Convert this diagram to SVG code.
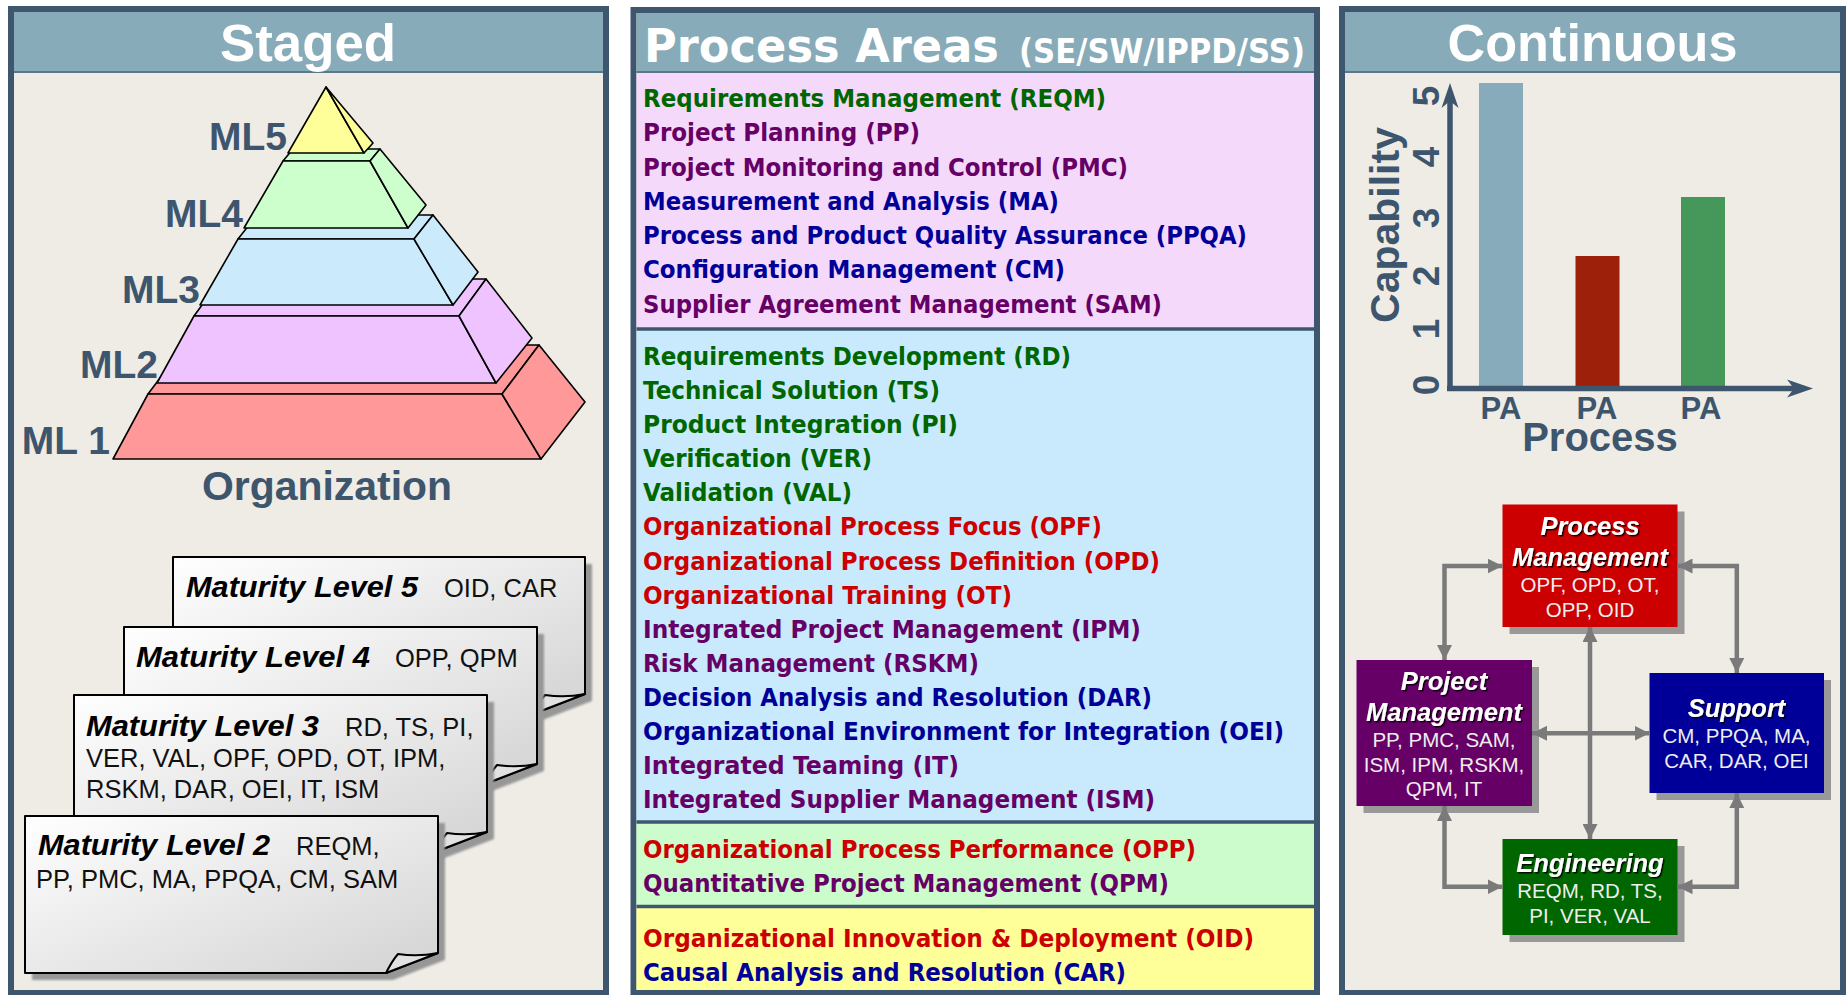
<svg xmlns="http://www.w3.org/2000/svg" width="1847" height="995" viewBox="0 0 1847 995">
  <defs>
    <style>
      .frame { fill: #efece5; stroke: #3e566e; stroke-width: 6; }
      .head { fill: #87abb9; }
      .headline { stroke: #5a788a; stroke-width: 2; }
      .htitle { font-family: "Liberation Sans", Arial, sans-serif; font-weight: bold; font-size: 51px; fill: #ffffff; text-anchor: middle; }
      .patitle { font-family: "DejaVu Sans", Verdana, sans-serif; font-weight: bold; fill: #ffffff; }
      .pa { font-family: "DejaVu Sans", Verdana, sans-serif; font-weight: bold; font-size: 24px; }
      .g { fill: #006600; }
      .p { fill: #660066; }
      .b { fill: #000099; }
      .r { fill: #cc0000; }
      .sep { stroke: #3e566e; stroke-width: 3.5; }
      .lvl { stroke: #000000; stroke-width: 1.6; stroke-linejoin: round; }
      .mlab { font-family: "Liberation Sans", Arial, sans-serif; font-weight: bold; font-size: 39px; fill: #3d566e; text-anchor: end; }
      .slate { font-family: "Liberation Sans", Arial, sans-serif; font-weight: bold; fill: #3d566e; }
      .card { fill: url(#paper); stroke: #000000; stroke-width: 2; stroke-linejoin: round; }
      .flap { fill: #e2e2e2; stroke: #000000; stroke-width: 2; stroke-linejoin: round; }
      .cshadow { fill: #979797; filter: url(#soft); }
      .ctitle { font-family: "Liberation Sans", Arial, sans-serif; font-weight: bold; font-style: italic; font-size: 29px; fill: #000000; }
      .ctext { font-family: "Liberation Sans", Arial, sans-serif; font-size: 25.5px; fill: #111111; }
      .bshadow { fill: #999999; }
      .btitle { font-family: "Liberation Sans", Arial, sans-serif; font-weight: bold; font-style: italic; font-size: 25.5px; fill: #ffffff; text-anchor: middle; filter: url(#tshadow); }
      .btext { font-family: "Liberation Sans", Arial, sans-serif; font-size: 20.5px; fill: #eeeeee; text-anchor: middle; }
      .link { fill: none; stroke: #7a7a7a; stroke-width: 4.5; marker-start: url(#ah); marker-end: url(#ah); }
    </style>
    <linearGradient id="paper" x1="0" y1="0" x2="1" y2="1">
      <stop offset="0" stop-color="#ffffff"/>
      <stop offset="1" stop-color="#d3d3d3"/>
    </linearGradient>
    <filter id="soft" x="-10%" y="-10%" width="120%" height="120%">
      <feGaussianBlur stdDeviation="1.2"/>
    </filter>
    <filter id="tshadow" x="-10%" y="-20%" width="120%" height="150%">
      <feDropShadow dx="1.5" dy="1.5" stdDeviation="0.7" flood-color="#000000" flood-opacity="0.85"/>
    </filter>
    <marker id="ah" viewBox="0 0 10 10" refX="10" refY="5" markerWidth="15" markerHeight="15" markerUnits="userSpaceOnUse" orient="auto-start-reverse">
      <path d="M0,0 L10,5 L0,10 Z" fill="#7a7a7a"/>
    </marker>
  </defs>

  <rect width="1847" height="995" fill="#ffffff"/>

  <!-- ===== Staged panel ===== -->
  <g id="staged-panel">
    <rect class="frame" x="11" y="9" width="595" height="984"/>
    <rect class="head" x="14" y="12" width="589" height="59"/>
    <line class="headline" x1="14" y1="72" x2="603" y2="72"/>
    <text class="htitle" x="308" y="61" textLength="176" lengthAdjust="spacingAndGlyphs">Staged</text>
  </g>

  <g id="pyramid">
    <g id="ml1-layer" fill="#ff9999">
      <polygon class="lvl" points="148,394 185,345 539,345 502,394"/>
      <polygon class="lvl" points="148,394 502,394 541,459 113,459"/>
      <polygon class="lvl" points="502,394 539,345 585,402 541,459"/>
    </g>
    <g id="ml2-layer" fill="#efc3ff">
      <polygon class="lvl" points="194,316 221,279 486,279 459,316"/>
      <polygon class="lvl" points="194,316 459,316 496,383 157,383"/>
      <polygon class="lvl" points="459,316 486,279 532,338 496,383"/>
    </g>
    <g id="ml3-layer" fill="#cbebfd">
      <polygon class="lvl" points="238,239 257,215 433,215 414,239"/>
      <polygon class="lvl" points="238,239 414,239 453,305 200,305"/>
      <polygon class="lvl" points="414,239 433,215 478,272 453,305"/>
    </g>
    <g id="ml4-layer" fill="#ccffcc">
      <polygon class="lvl" points="283,161 293,149 380,149 370,161"/>
      <polygon class="lvl" points="283,161 370,161 408,228 244,228"/>
      <polygon class="lvl" points="370,161 380,149 426,205 408,228"/>
    </g>
    <g id="ml5-layer" fill="#ffff99">
      <polygon class="lvl" points="326,87 364,153 288,153"/>
      <polygon class="lvl" points="326,87 373,143 364,153"/>
    </g>
    <text class="mlab" x="287" y="150">ML5</text>
    <text class="mlab" x="243" y="227">ML4</text>
    <text class="mlab" x="200" y="303">ML3</text>
    <text class="mlab" x="158" y="378">ML2</text>
    <text class="mlab" x="110" y="454">ML 1</text>
    <text class="slate" x="327" y="500" font-size="41" text-anchor="middle" textLength="250" lengthAdjust="spacingAndGlyphs">Organization</text>
  </g>

  <!-- maturity level cards, back to front -->
  <g id="card-ml5">
    <path class="cshadow" d="M180,564 H592 V701 L540,721 H180 Z"/>
    <path class="card" d="M173,557 H585 V694 L533,714 H173 Z"/>
    <path class="flap" d="M533,714 Q539,702 545,695 Q565,698 585,694 Z"/>
    <text class="ctitle" x="186" y="597" textLength="232" lengthAdjust="spacingAndGlyphs">Maturity Level 5</text>
    <text class="ctext" x="444" y="597">OID, CAR</text>
  </g>
  <g id="card-ml4">
    <path class="cshadow" d="M131,634 H544 V771 L492,791 H131 Z"/>
    <path class="card" d="M124,627 H537 V764 L485,784 H124 Z"/>
    <path class="flap" d="M485,784 Q491,772 497,765 Q517,768 537,764 Z"/>
    <text class="ctitle" x="136" y="667" textLength="234" lengthAdjust="spacingAndGlyphs">Maturity Level 4</text>
    <text class="ctext" x="395" y="667">OPP, QPM</text>
  </g>
  <g id="card-ml3">
    <path class="cshadow" d="M81,702 H494 V839 L442,859 H81 Z"/>
    <path class="card" d="M74,695 H487 V832 L435,852 H74 Z"/>
    <path class="flap" d="M435,852 Q441,840 447,833 Q467,836 487,832 Z"/>
    <text class="ctitle" x="86" y="736" textLength="233" lengthAdjust="spacingAndGlyphs">Maturity Level 3</text>
    <text class="ctext" x="345" y="736">RD, TS, PI,</text>
    <text class="ctext" x="86" y="767">VER, VAL, OPF, OPD, OT, IPM,</text>
    <text class="ctext" x="86" y="798">RSKM, DAR, OEI, IT, ISM</text>
  </g>
  <g id="card-ml2">
    <path class="cshadow" d="M32,823 H445 V960 L393,980 H32 Z"/>
    <path class="card" d="M25,816 H438 V953 L386,973 H25 Z"/>
    <path class="flap" d="M386,973 Q392,961 398,954 Q418,957 438,953 Z"/>
    <text class="ctitle" x="38" y="855" textLength="232" lengthAdjust="spacingAndGlyphs">Maturity Level 2</text>
    <text class="ctext" x="296" y="855">REQM,</text>
    <text class="ctext" x="36" y="888">PP, PMC, MA, PPQA, CM, SAM</text>
  </g>

  <!-- ===== Process Areas panel ===== -->
  <g id="process-areas-panel">
    <rect class="frame" x="633.5" y="10" width="683.5" height="983"/>
    <rect class="head" x="636.5" y="13" width="677.5" height="58"/>
    <line class="headline" x1="636.5" y1="72" x2="1314" y2="72"/>
    <rect x="636.5" y="73" width="677.5" height="256" fill="#f5d9fb"/>
    <rect x="636.5" y="329" width="677.5" height="493" fill="#c9eafc"/>
    <rect x="636.5" y="822" width="677.5" height="84.5" fill="#ccfccc"/>
    <rect x="636.5" y="906.5" width="677.5" height="83.5" fill="#ffff99"/>
    <line class="sep" x1="636.5" y1="329" x2="1314" y2="329"/>
    <line class="sep" x1="636.5" y1="822" x2="1314" y2="822"/>
    <line class="sep" x1="636.5" y1="906.5" x2="1314" y2="906.5"/>
    <text class="patitle" x="644" y="62" font-size="47" textLength="355" lengthAdjust="spacingAndGlyphs">Process Areas</text>
    <text class="patitle" x="1019" y="63" font-size="33" textLength="286" lengthAdjust="spacingAndGlyphs">(SE/SW/IPPD/SS)</text>
  </g>

  <g id="level2-areas" class="pa">
    <text class="g" x="643" y="107" textLength="463" lengthAdjust="spacingAndGlyphs">Requirements Management (REQM)</text>
    <text class="p" x="643" y="141.3" textLength="277" lengthAdjust="spacingAndGlyphs">Project Planning (PP)</text>
    <text class="p" x="643" y="175.5" textLength="485" lengthAdjust="spacingAndGlyphs">Project Monitoring and Control (PMC)</text>
    <text class="b" x="643" y="209.8" textLength="416" lengthAdjust="spacingAndGlyphs">Measurement and Analysis (MA)</text>
    <text class="b" x="643" y="244" textLength="604" lengthAdjust="spacingAndGlyphs">Process and Product Quality Assurance (PPQA)</text>
    <text class="b" x="643" y="278.3" textLength="422" lengthAdjust="spacingAndGlyphs">Configuration Management (CM)</text>
    <text class="p" x="643" y="312.5" textLength="519" lengthAdjust="spacingAndGlyphs">Supplier Agreement Management (SAM)</text>
  </g>

  <g id="level3-areas" class="pa">
    <text class="g" x="643" y="365" textLength="428" lengthAdjust="spacingAndGlyphs">Requirements Development (RD)</text>
    <text class="g" x="643" y="399" textLength="297" lengthAdjust="spacingAndGlyphs">Technical Solution (TS)</text>
    <text class="g" x="643" y="433" textLength="315" lengthAdjust="spacingAndGlyphs">Product Integration (PI)</text>
    <text class="g" x="643" y="467" textLength="229" lengthAdjust="spacingAndGlyphs">Verification (VER)</text>
    <text class="g" x="643" y="501" textLength="209" lengthAdjust="spacingAndGlyphs">Validation (VAL)</text>
    <text class="r" x="643" y="535" textLength="459" lengthAdjust="spacingAndGlyphs">Organizational Process Focus (OPF)</text>
    <text class="r" x="643" y="569.5" textLength="517" lengthAdjust="spacingAndGlyphs">Organizational Process Definition (OPD)</text>
    <text class="r" x="643" y="603.5" textLength="369" lengthAdjust="spacingAndGlyphs">Organizational Training (OT)</text>
    <text class="p" x="643" y="637.5" textLength="498" lengthAdjust="spacingAndGlyphs">Integrated Project Management (IPM)</text>
    <text class="p" x="643" y="671.7" textLength="336" lengthAdjust="spacingAndGlyphs">Risk Management (RSKM)</text>
    <text class="b" x="643" y="705.8" textLength="509" lengthAdjust="spacingAndGlyphs">Decision Analysis and Resolution (DAR)</text>
    <text class="b" x="643" y="740" textLength="641" lengthAdjust="spacingAndGlyphs">Organizational Environment for Integration (OEI)</text>
    <text class="p" x="643" y="774" textLength="316" lengthAdjust="spacingAndGlyphs">Integrated Teaming (IT)</text>
    <text class="p" x="643" y="808" textLength="512" lengthAdjust="spacingAndGlyphs">Integrated Supplier Management (ISM)</text>
  </g>

  <g id="level4-areas" class="pa">
    <text class="r" x="643" y="858" textLength="553" lengthAdjust="spacingAndGlyphs">Organizational Process Performance (OPP)</text>
    <text class="p" x="643" y="892" textLength="526" lengthAdjust="spacingAndGlyphs">Quantitative Project Management (QPM)</text>
  </g>

  <g id="level5-areas" class="pa">
    <text class="r" x="643" y="947" textLength="611" lengthAdjust="spacingAndGlyphs">Organizational Innovation &amp; Deployment (OID)</text>
    <text class="b" x="643" y="981" textLength="483" lengthAdjust="spacingAndGlyphs">Causal Analysis and Resolution (CAR)</text>
  </g>

  <!-- ===== Continuous panel ===== -->
  <g id="continuous-panel">
    <rect class="frame" x="1342" y="9" width="501" height="984"/>
    <rect class="head" x="1345" y="12" width="495" height="59"/>
    <line class="headline" x1="1345" y1="72" x2="1840" y2="72"/>
    <text class="htitle" x="1592.5" y="61" textLength="290" lengthAdjust="spacingAndGlyphs">Continuous</text>
  </g>

  <g id="capability-chart">
    <rect x="1479" y="83" width="44" height="305" fill="#87abbb"/>
    <rect x="1575.5" y="256" width="44" height="132" fill="#9c200a"/>
    <rect x="1681" y="197" width="44" height="191" fill="#45985a"/>
    <line x1="1450" y1="391" x2="1450" y2="100" stroke="#3d566e" stroke-width="5.5"/>
    <line x1="1447" y1="388.5" x2="1796" y2="388.5" stroke="#3d566e" stroke-width="5.5"/>
    <polygon points="1450,83 1458.5,108 1450,101 1441.5,108" fill="#3d566e"/>
    <polygon points="1813,388.5 1787,397.5 1794,388.5 1787,379.5" fill="#3d566e"/>
    <g class="slate" font-size="37" text-anchor="middle">
      <text x="1439" y="385" transform="rotate(-90 1439 385)">0</text>
      <text x="1439" y="329" transform="rotate(-90 1439 329)">1</text>
      <text x="1439" y="276" transform="rotate(-90 1439 276)">2</text>
      <text x="1439" y="218" transform="rotate(-90 1439 218)">3</text>
      <text x="1439" y="157" transform="rotate(-90 1439 157)">4</text>
      <text x="1439" y="96" transform="rotate(-90 1439 96)">5</text>
    </g>
    <text class="slate" x="1399" y="225" font-size="41" text-anchor="middle" transform="rotate(-90 1399 225)">Capability</text>
    <g class="slate" font-size="31" text-anchor="middle">
      <text x="1501" y="419">PA</text>
      <text x="1597" y="419">PA</text>
      <text x="1701" y="419">PA</text>
    </g>
    <text class="slate" x="1600" y="451" font-size="40" text-anchor="middle">Process</text>
  </g>

  <!-- process area categories -->
  <g id="process-management">
    <rect class="bshadow" x="1509.5" y="511.5" width="175" height="122.5"/>
    <rect x="1502.5" y="504.5" width="175" height="122.5" fill="#cc0000"/>
    <text class="btitle" x="1590" y="535">Process</text>
    <text class="btitle" x="1590" y="566">Management</text>
    <text class="btext" x="1590" y="592">OPF, OPD, OT,</text>
    <text class="btext" x="1590" y="617">OPP, OID</text>
  </g>
  <g id="project-management">
    <rect class="bshadow" x="1363.5" y="667" width="175.5" height="146"/>
    <rect x="1356.5" y="660" width="175.5" height="146" fill="#660066"/>
    <text class="btitle" x="1444" y="690">Project</text>
    <text class="btitle" x="1444" y="720.7">Management</text>
    <text class="btext" x="1444" y="746.7">PP, PMC, SAM,</text>
    <text class="btext" x="1444" y="771.7">ISM, IPM, RSKM,</text>
    <text class="btext" x="1444" y="796">QPM, IT</text>
  </g>
  <g id="support">
    <rect class="bshadow" x="1656.5" y="680" width="174.5" height="120"/>
    <rect x="1649.5" y="673" width="174.5" height="120" fill="#000099"/>
    <text class="btitle" x="1736.5" y="717">Support</text>
    <text class="btext" x="1736.5" y="743">CM, PPQA, MA,</text>
    <text class="btext" x="1736.5" y="768">CAR, DAR, OEI</text>
  </g>
  <g id="engineering">
    <rect class="bshadow" x="1509.5" y="846" width="175" height="96"/>
    <rect x="1502.5" y="839" width="175" height="96" fill="#006600"/>
    <text class="btitle" x="1590" y="871.7">Engineering</text>
    <text class="btext" x="1590" y="898">REQM, RD, TS,</text>
    <text class="btext" x="1590" y="922.7">PI, VER, VAL</text>
  </g>

  <g id="connectors">
    <path class="link" d="M1444.5,660 V566 H1502.5"/>
    <path class="link" d="M1677.5,566 H1736.8 V673"/>
    <path class="link" d="M1444.5,806 V886.7 H1502.5"/>
    <path class="link" d="M1736.8,793 V886.7 H1677.5"/>
    <path class="link" d="M1590,627 V839"/>
    <path class="link" d="M1532,733.3 H1649.5"/>
  </g>
</svg>
